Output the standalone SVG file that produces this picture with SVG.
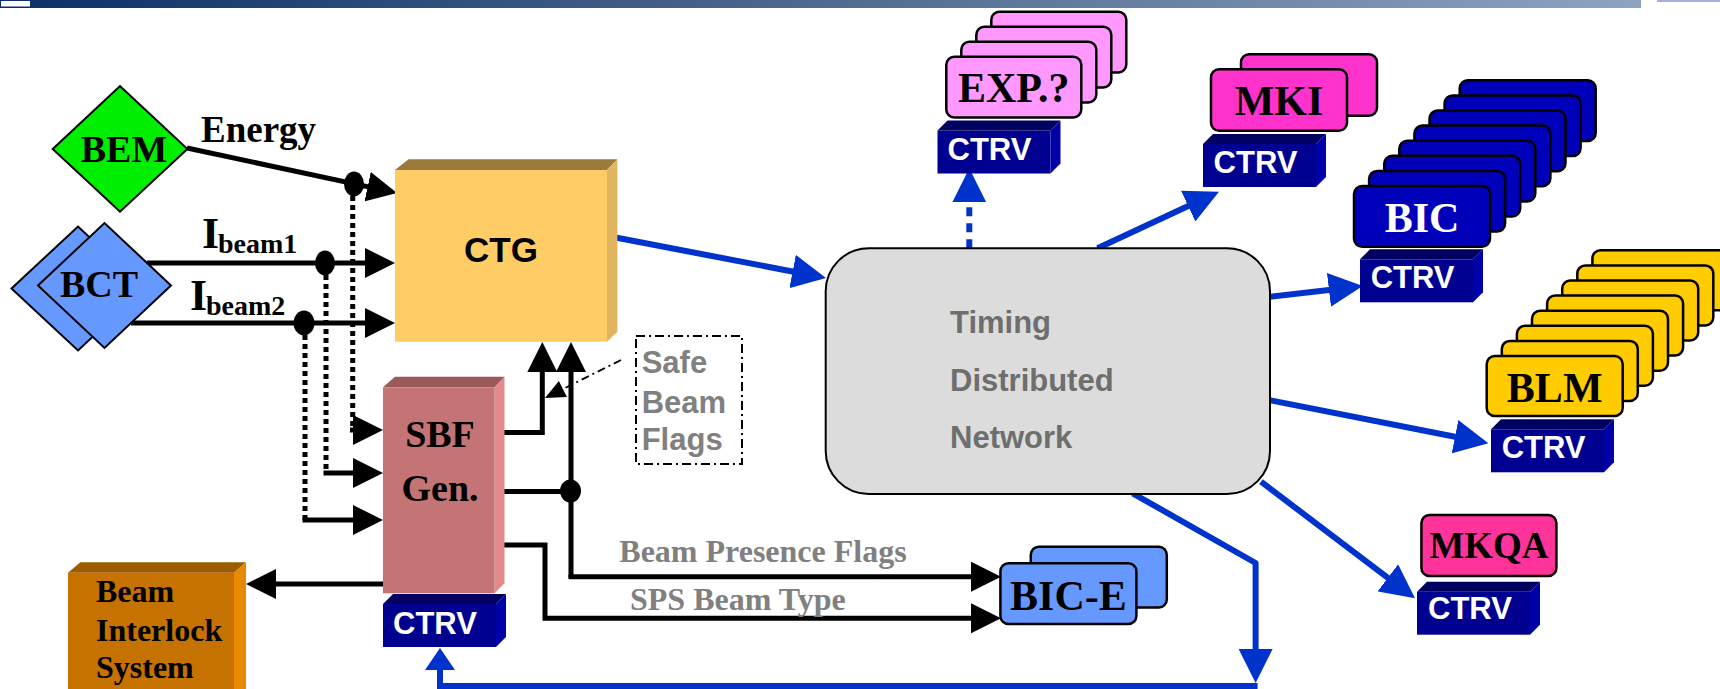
<svg xmlns="http://www.w3.org/2000/svg" width="1720" height="689" viewBox="0 0 1720 689">
<style>
.ser{font-family:"Liberation Serif","Times New Roman",serif;font-weight:bold}
.san{font-family:"Liberation Sans",Arial,sans-serif;font-weight:bold}
.ctrvt{fill:#fff;font-size:31px}
.cf{fill:#000090}.ct{fill:#000060}.cs{fill:#0000a8}
.blk{stroke:#000;stroke-width:5;fill:none}
.dotl{stroke:#000;stroke-width:5;fill:none;stroke-dasharray:5 4}
.blue{stroke:#0033cc;stroke-width:6;fill:none}
.card{stroke:#000;stroke-width:2.5}
.gray{fill:#808080}
</style>
<defs>
<linearGradient id="barGrad" x1="0" x2="1" y1="0" y2="0">
<stop offset="0" stop-color="#0b2f66"/>
<stop offset="0.5" stop-color="#4f6a90"/>
<stop offset="1" stop-color="#8ea3bf"/>
</linearGradient>
<marker id="ahB" markerUnits="userSpaceOnUse" markerWidth="30" markerHeight="30" viewBox="0 0 30 30" refX="20" refY="15" orient="auto"><path d="M0,0 L30,15 L0,30 z" fill="#000"/></marker>
<marker id="ahBlue" markerUnits="userSpaceOnUse" markerWidth="34" markerHeight="34" viewBox="0 0 34 34" refX="22" refY="17" orient="auto"><path d="M0,0 L34,17 L0,34 z" fill="#0033cc"/></marker>
<marker id="ahBlueS" markerUnits="userSpaceOnUse" markerWidth="22" markerHeight="30" viewBox="0 0 22 30" refX="12" refY="15" orient="auto"><path d="M0,0 L22,15 L0,30 z" fill="#0033cc"/></marker>
<g id="cube">
<rect class="cf" x="0" y="0" width="113" height="43"/>
<polygon class="ct" points="0,0 10,-10 123,-10 113,0"/>
<polygon class="cs" points="113,0 123,-10 123,33 113,43"/>
</g>
</defs>

<g id="header">
<rect x="0" y="0" width="1641" height="8" fill="url(#barGrad)"/>
<rect x="0.5" y="0.5" width="30" height="6.5" fill="#fff" stroke="#0b2f66" stroke-width="1"/>
<rect x="1657" y="0" width="63" height="2" fill="#aab0dd"/>
</g>

<g id="connectors">
<!-- inputs to CTG -->
<path class="blk" d="M187,148 L387.2,190.9" marker-end="url(#ahB)"/>
<path class="blk" d="M147,263 H385" marker-end="url(#ahB)"/>
<path class="blk" d="M131,323 H385" marker-end="url(#ahB)"/>
<ellipse cx="354" cy="184" rx="10" ry="12.5" fill="#000"/>
<ellipse cx="325" cy="263" rx="10" ry="12.5" fill="#000"/>
<ellipse cx="304" cy="323" rx="10.5" ry="12.5" fill="#000"/>
<!-- dotted taps to SBF -->
<path class="dotl" d="M352.7,196 V430"/>
<path class="blk" d="M350,430 H373" marker-end="url(#ahB)"/>
<path class="dotl" d="M326,275 V473"/>
<path class="blk" d="M323.5,473 H373" marker-end="url(#ahB)"/>
<path class="dotl" d="M305,335 V520"/>
<path class="blk" d="M302.5,520 H373" marker-end="url(#ahB)"/>
<!-- SBF to CTG -->
<path class="blk" d="M495,432.5 H542.3 V352" marker-end="url(#ahB)"/>
<path class="blk" d="M571,578 V352" marker-end="url(#ahB)"/>
<path class="blk" d="M495,491.5 H571"/>
<ellipse cx="570.5" cy="491" rx="10.5" ry="11.5" fill="#000"/>
<path class="blk" d="M568.5,576.7 H991" marker-end="url(#ahB)"/>
<path class="blk" d="M495,545 H545 V618.3 H991" marker-end="url(#ahB)"/>
<path class="blk" d="M383,584 H256" marker-end="url(#ahB)"/>
<!-- safe beam flags pointer -->
<path d="M621,360 L556,392.5" stroke="#000" stroke-width="1.8" fill="none" stroke-dasharray="8 4 2 4"/>
<polygon points="545,398 558.9,381.1 566.9,397.1" fill="#000"/>
<!-- blue timing links -->
<path class="blue" d="M613,237 L814.2,275.7" marker-end="url(#ahBlue)"/>
<path class="blue" d="M1097.5,248.3 L1208.1,196.8" marker-end="url(#ahBlue)"/>
<path class="blue" d="M1268,297 L1350.8,287.4" marker-end="url(#ahBlue)"/>
<path class="blue" d="M1269,400 L1476.6,441" marker-end="url(#ahBlue)"/>
<path class="blue" d="M1261,481.7 L1405.4,591.1" marker-end="url(#ahBlue)"/>
<path class="blue" d="M969.3,248.3 V180.3" stroke-width="8" stroke-dasharray="9 7" marker-end="url(#ahBlue)"/>
<path class="blue" d="M1132.7,493.3 L1255.6,563 V671" stroke-width="5" stroke-linejoin="round" marker-end="url(#ahBlue)"/>
<path class="blue" d="M1257.6,686 H440 V658" stroke-width="4" marker-end="url(#ahBlueS)"/>
</g>

<g id="node-bem">
<polygon points="52.7,149 120,86 187.4,149 120,211.7" fill="#00ee00" stroke="#000" stroke-width="2"/>
<text class="ser" x="124" y="161.7" font-size="38" text-anchor="middle">BEM</text>
</g>

<g id="label-energy">
<text class="ser" x="201" y="141.7" font-size="37">Energy</text>
</g>

<g id="node-bct">
<polygon points="11.5,288.5 78,226.5 144.5,288.5 78,350.5" fill="#6699ff" stroke="#000" stroke-width="2"/>
<polygon points="38,285.5 104.5,223 171,285.5 104.5,348" fill="#6699ff" stroke="#000" stroke-width="2"/>
<text class="ser" x="99" y="296.7" font-size="38" text-anchor="middle">BCT</text>
</g>

<g id="label-ibeam">
<text class="ser" x="202" y="248.3" font-size="44">I</text>
<text class="ser" x="218" y="253.3" font-size="28">beam1</text>
<text class="ser" x="190" y="310" font-size="44">I</text>
<text class="ser" x="206" y="315" font-size="28">beam2</text>
</g>

<g id="node-ctg">
<polygon points="395,170 408.5,159.3 617.4,159.3 607,170" fill="#9b7b3c"/>
<polygon points="607,170 617.4,159.3 617.4,331.7 607,341.7" fill="#e0b55e"/>
<rect x="395" y="170" width="212" height="171.7" fill="#ffcc66"/>
<text class="san" x="501" y="261.7" font-size="35" text-anchor="middle">CTG</text>
</g>

<g id="node-sbf">
<polygon points="383,387.3 395,376.7 504.5,376.7 494.6,387.3" fill="#9b5a5a"/>
<polygon points="494.6,387.3 504.5,376.7 504.5,583.3 494.6,593.3" fill="#e38b8b"/>
<rect x="383" y="387.3" width="111.6" height="206" fill="#c47474"/>
<text class="ser" x="440" y="446.7" font-size="38" text-anchor="middle">SBF</text>
<text class="ser" x="440" y="500.5" font-size="38" text-anchor="middle">Gen.</text>
</g>

<g id="node-ctrv-sbf" transform="translate(383,604)">
<use href="#cube"/>
<text class="san ctrvt" x="10" y="30">CTRV</text>
</g>

<g id="node-bis">
<polygon points="68,572.7 80.4,562.3 246,562.3 234,572.7" fill="#9c5c00"/>
<polygon points="234,572.7 246,562.3 246,689 234,689" fill="#e68a00"/>
<rect x="68" y="572.7" width="166" height="117" fill="#c67200"/>
<text class="ser" x="96" y="601.7" font-size="32">Beam</text>
<text class="ser" x="96" y="640.7" font-size="32">Interlock</text>
<text class="ser" x="96" y="678.3" font-size="32">System</text>
</g>

<g id="node-safe-beam-flags">
<rect x="636" y="336" width="106" height="128" fill="none" stroke="#000" stroke-width="2" stroke-dasharray="9 4 2 4"/>
<text class="san gray" x="641.7" y="373.3" font-size="31">Safe</text>
<text class="san gray" x="641.7" y="412.7" font-size="31">Beam</text>
<text class="san gray" x="641.7" y="450" font-size="31">Flags</text>
</g>

<g id="labels-flags">
<text class="ser gray" x="619.3" y="562.3" font-size="32">Beam Presence Flags</text>
<text class="ser gray" x="630" y="610" font-size="32">SPS Beam Type</text>
</g>

<g id="node-timing">
<rect x="825.7" y="248.3" width="444.3" height="245.7" rx="43" ry="43" fill="#dcdcdc" stroke="#000" stroke-width="2"/>
<text class="san" x="950" y="333.3" font-size="31" fill="#6e6e6e">Timing</text>
<text class="san" x="950" y="390.7" font-size="31" fill="#6e6e6e">Distributed</text>
<text class="san" x="950" y="448.3" font-size="31" fill="#6e6e6e">Network</text>
</g>

<g id="node-exp">
<rect class="card" x="991.3" y="11.7" width="135" height="60.7" rx="8" fill="#ff99ff"/>
<rect class="card" x="976.3" y="26.7" width="135" height="60.7" rx="8" fill="#ff99ff"/>
<rect class="card" x="961.3" y="41.7" width="135" height="60.7" rx="8" fill="#ff99ff"/>
<rect class="card" x="946.3" y="56.7" width="135" height="60.7" rx="8" fill="#ff99ff"/>
<text class="ser" x="1013.8" y="101.7" font-size="42" text-anchor="middle">EXP.?</text>
</g>
<g id="node-ctrv-exp" transform="translate(937.5,130.5)">
<use href="#cube"/>
<text class="san ctrvt" x="10" y="29.5">CTRV</text>
</g>

<g id="node-mki">
<rect class="card" x="1241" y="54.3" width="136" height="61.4" rx="8" fill="#ff33cc"/>
<rect class="card" x="1211" y="69.3" width="136" height="61.4" rx="8" fill="#ff33cc"/>
<text class="ser" x="1279" y="115" font-size="42" text-anchor="middle">MKI</text>
</g>
<g id="node-ctrv-mki" transform="translate(1203,144)">
<use href="#cube"/>
<text class="san ctrvt" x="10.6" y="29.3">CTRV</text>
</g>

<g id="node-bic">
<rect class="card" x="1459.7" y="80.3" width="136" height="60.7" rx="8" fill="#0000bb"/>
<rect class="card" x="1444.6" y="95.4" width="136" height="60.7" rx="8" fill="#0000bb"/>
<rect class="card" x="1429.5" y="110.5" width="136" height="60.7" rx="8" fill="#0000bb"/>
<rect class="card" x="1414.4" y="125.6" width="136" height="60.7" rx="8" fill="#0000bb"/>
<rect class="card" x="1399.3" y="140.7" width="136" height="60.7" rx="8" fill="#0000bb"/>
<rect class="card" x="1384.2" y="155.8" width="136" height="60.7" rx="8" fill="#0000bb"/>
<rect class="card" x="1369.1" y="170.9" width="136" height="60.7" rx="8" fill="#0000bb"/>
<rect class="card" x="1354" y="186" width="136" height="60.7" rx="8" fill="#0000bb"/>
<text class="ser" x="1422" y="231.7" font-size="42" text-anchor="middle" fill="#fff">BIC</text>
</g>
<g id="node-ctrv-bic" transform="translate(1360,259.3)">
<use href="#cube"/>
<text class="san ctrvt" x="10.7" y="29">CTRV</text>
</g>

<g id="node-blm">
<rect class="card" x="1592.4" y="250.3" width="136" height="60" rx="8" fill="#ffcc00"/>
<rect class="card" x="1577.3" y="265.4" width="136" height="60" rx="8" fill="#ffcc00"/>
<rect class="card" x="1562.2" y="280.5" width="136" height="60" rx="8" fill="#ffcc00"/>
<rect class="card" x="1547.1" y="295.6" width="136" height="60" rx="8" fill="#ffcc00"/>
<rect class="card" x="1532" y="310.7" width="136" height="60" rx="8" fill="#ffcc00"/>
<rect class="card" x="1516.9" y="325.8" width="136" height="60" rx="8" fill="#ffcc00"/>
<rect class="card" x="1501.8" y="340.9" width="136" height="60" rx="8" fill="#ffcc00"/>
<rect class="card" x="1486.7" y="356" width="136" height="60" rx="8" fill="#ffcc00"/>
<text class="ser" x="1554.7" y="401.7" font-size="42" text-anchor="middle">BLM</text>
</g>
<g id="node-ctrv-blm" transform="translate(1491,429.3)">
<use href="#cube"/>
<text class="san ctrvt" x="10.7" y="29">CTRV</text>
</g>

<g id="node-mkqa">
<rect class="card" x="1421.4" y="515" width="135" height="61" rx="8" fill="#ff3399"/>
<text class="ser" x="1489" y="558.3" font-size="38" text-anchor="middle" textLength="119" lengthAdjust="spacingAndGlyphs">MKQA</text>
</g>
<g id="node-ctrv-mkqa" transform="translate(1417,591.7)">
<use href="#cube"/>
<text class="san ctrvt" x="11" y="27.5">CTRV</text>
</g>

<g id="node-bice">
<rect class="card" x="1030.8" y="546.7" width="136" height="60.7" rx="8" fill="#6699ff"/>
<rect class="card" x="1000.4" y="563.3" width="136" height="60.7" rx="8" fill="#6699ff"/>
<text class="ser" x="1068.4" y="610" font-size="42" text-anchor="middle">BIC-E</text>
</g>
</svg>
